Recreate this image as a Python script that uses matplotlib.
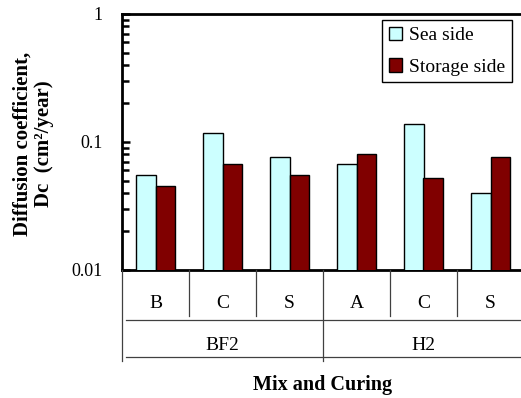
import matplotlib
matplotlib.use("Agg")
import matplotlib.pyplot as plt
from matplotlib.transforms import blended_transform_factory
from matplotlib.lines import Line2D
from matplotlib.ticker import FixedLocator, FixedFormatter, LogLocator, NullFormatter
import numpy as np

# ---- data ----
curing = ['B', 'C', 'S', 'A', 'C', 'S']
mixes = ['BF2', 'H2']
mix_sizes = [3, 3]
sea_side = [0.055, 0.117, 0.077, 0.067, 0.138, 0.040]
storage_side = [0.045, 0.067, 0.055, 0.081, 0.052, 0.077]
series_names = ['Sea side', 'Storage side']
ytick_vals = [0.01, 0.1, 1]
ytick_labels = ['0.01', '0.1', '1']

plt.rcParams['font.family'] = ['Liberation Serif', 'DejaVu Serif']

W, H = 521, 398
fig = plt.figure(figsize=(W / 100, H / 100), dpi=100)
ax_l, ax_r, ax_t, ax_b = 122, 524, 14, 270
ax = fig.add_axes([ax_l / W, 1 - ax_b / H, (ax_r - ax_l) / W, (ax_b - ax_t) / H])

x = np.arange(len(curing))
bw = 0.29
ax.bar(x - bw / 2, sea_side, bw, color='#CCFFFF', edgecolor='black', linewidth=1.0,
       label=series_names[0], zorder=3)
ax.bar(x + bw / 2, storage_side, bw, color='#800000', edgecolor='black', linewidth=1.0,
       label=series_names[1], zorder=3)

ax.set_yscale('log')
ax.set_ylim(0.01, 1)
ax.set_xlim(-0.5, len(curing) - 0.5)
ax.yaxis.set_major_locator(FixedLocator(ytick_vals))
ax.yaxis.set_major_formatter(FixedFormatter(ytick_labels))
ax.yaxis.set_minor_locator(LogLocator(base=10, subs=np.arange(2, 10)))
ax.yaxis.set_minor_formatter(NullFormatter())
ax.tick_params(axis='y', which='major', direction='in', length=6, width=1.8,
               labelsize=13, pad=14)
ax.tick_params(axis='y', which='minor', direction='in', length=5, width=1.8)
ax.set_xticks([])
for s in ['left', 'top', 'bottom']:
    ax.spines[s].set_linewidth(2)
ax.spines['right'].set_visible(False)

# hierarchical x labels
tr = blended_transform_factory(ax.transData, fig.transFigure)
def fy(py):
    return 1 - py / H

lc = '#404040'
lw = 0.9
for i, c in enumerate(curing):
    fig.text(i, fy(303), c, transform=tr, ha='center', va='center', fontsize=14)
outer_bounds = [-0.5]
for n in mix_sizes:
    outer_bounds.append(outer_bounds[-1] + n)
for b in np.arange(-0.5, len(curing) - 0.4, 1.0):
    if any(abs(b - ob) < 1e-9 for ob in outer_bounds):
        fig.add_artist(Line2D([b, b], [fy(270), fy(361)], transform=tr, color=lc, lw=lw))
    else:
        fig.add_artist(Line2D([b, b], [fy(270), fy(316)], transform=tr, color=lc, lw=lw))
x0 = -0.5 + 4 / 67
for py in [320, 357]:
    fig.add_artist(Line2D([x0, len(curing) - 0.5], [fy(py), fy(py)], transform=tr, color=lc, lw=lw))
for j, m in enumerate(mixes):
    cx = (outer_bounds[j] + outer_bounds[j + 1]) / 2
    fig.text(cx, fy(345), m, transform=tr, ha='center', va='center', fontsize=14)

fig.text(323 / W, fy(385), 'Mix and Curing', ha='center', va='center', fontsize=14.5,
         fontweight='bold')
fig.text(33 / W, fy(144), 'Diffusion coefficient,\nDc  (cm\u00b2/year)', rotation=90,
         ha='center', va='center', multialignment='center', fontsize=15,
         fontweight='bold', linespacing=1.1)

leg = ax.legend(loc='upper right', bbox_to_anchor=(512 / W, fy(20)),
                bbox_transform=fig.transFigure, borderaxespad=0, fancybox=False,
                edgecolor='black', framealpha=1, fontsize=14, handlelength=0.7,
                handleheight=0.7, handletextpad=0.35, labelspacing=0.7,
                borderpad=0.35)
leg.get_frame().set_linewidth(1.0)

fig.savefig('out.png', dpi=100)
